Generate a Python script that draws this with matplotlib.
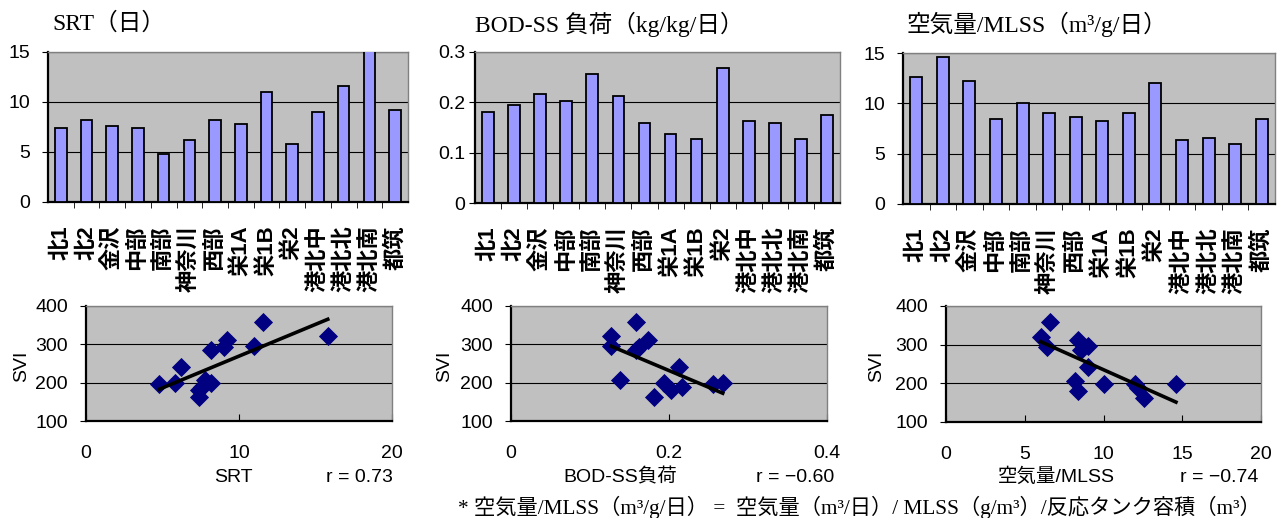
#!/usr/bin/env python3

import numpy as np
import matplotlib
matplotlib.use('Agg')
import matplotlib.pyplot as plt
from matplotlib.ticker import FixedLocator
plt.rcParams['font.family'] = ['Liberation Sans', 'Noto Sans CJK JP']
plt.rcParams['font.size'] = 14

W, H = 1281, 518

plants = ['北1', '北2', '金沢', '中部', '南部', '神奈川', '西部',
          '栄1A', '栄1B', '栄2', '港北中', '港北北', '港北南', '都筑']
srt = [7.4, 8.2, 7.6, 7.4, 4.8, 6.2, 8.2, 7.8, 11.0, 5.8, 9.0, 11.6, 15.8, 9.2]
bod_ss = [0.181, 0.194, 0.217, 0.202, 0.256, 0.213, 0.158,
          0.138, 0.127, 0.268, 0.162, 0.158, 0.127, 0.174]
air_mlss = [12.6, 14.6, 12.2, 8.4, 10.0, 9.0, 8.6, 8.2, 9.0, 12.0, 6.4, 6.6, 6.0, 8.4]
svi = [162, 198, 188, 181, 197, 241, 285, 206, 296, 199, 294, 358, 321, 312]

titles = ['SRT（日）', 'BOD-SS 負荷（kg/kg/日）', '空気量/MLSS（m³/g/日）']
xlabels = ['SRT', 'BOD-SS負荷', '空気量/MLSS']
r_texts = ['r = 0.73', 'r = −0.60', 'r = −0.74']
footnote = '* 空気量/MLSS（m³/g/日） =  空気量（m³/日）/ MLSS（g/m³）/反応タンク容積（m³）'

SERIF = ['Liberation Serif', 'Noto Sans CJK JP']


def rect(l, t, r, b):
    return [l / W, 1 - b / H, (r - l) / W, (b - t) / H]


def style_frame(ax):
    ax.set_facecolor('#C0C0C0')
    for side in ['left', 'bottom']:
        ax.spines[side].set_color('black')
        ax.spines[side].set_linewidth(1.6)
    for side in ['top', 'right']:
        ax.spines[side].set_color('#808080')
        ax.spines[side].set_linewidth(1.0)
    ax.set_axisbelow(True)


def plotBars(ax, values, yticks, ylim, fmt, ypad):
    style_frame(ax)
    x = np.arange(len(plants))
    ax.bar(x, values, width=0.45, color='#9999FF', edgecolor='black', linewidth=1.3, zorder=3)
    ax.set_xlim(-0.5, len(plants) - 0.5)
    ax.set_ylim(*ylim)
    ax.set_yticks(yticks)
    ax.set_yticklabels([fmt(v) for v in yticks])
    ax.yaxis.grid(True, color='black', linewidth=0.8)
    ax.set_xticks(x)
    ax.set_xticklabels(plants, rotation=90, fontsize=16, fontweight='bold')
    ax.xaxis.set_minor_locator(FixedLocator(np.arange(0.5, len(plants) - 0.5, 1.0)))
    ax.tick_params(axis='x', which='major', length=0, pad=17)
    ax.tick_params(axis='x', which='minor', length=4, direction='out')
    ax.tick_params(axis='y', length=4, direction='out', pad=ypad, labelsize=14)


def plotScatter(ax, xs, xlim, xticks, fmt):
    style_frame(ax)
    ax.scatter(xs, svi, marker='D', s=95, color='#000080', zorder=3, linewidths=0)
    slope, icpt = np.polyfit(xs, svi, 1)
    xx = np.array([min(xs), max(xs)])
    ax.plot(xx, slope * xx + icpt, color='black', linewidth=2.6, zorder=4)
    ax.set_xlim(*xlim)
    ax.set_ylim(100, 400)
    ax.set_yticks([100, 200, 300, 400])
    ax.yaxis.grid(True, color='black', linewidth=0.8)
    ax.set_xticks(xticks)
    ax.set_xticklabels([fmt(v) for v in xticks])
    ax.tick_params(axis='x', length=5, direction='in', pad=17, labelsize=14)
    ax.tick_params(axis='y', length=4, direction='out', pad=9, labelsize=14)


def main():
    fig = plt.figure(figsize=(W / 100, H / 100), dpi=100)

    bar_rects = [rect(48, 52, 408, 202), rect(475, 52, 840, 203), rect(903, 53, 1275, 204)]
    sc_rects = [rect(86, 306, 392, 421), rect(511, 306, 827, 421), rect(946, 306, 1261, 422)]
    title_x = [52, 475, 907]
    svi_x = [22, 445, 877]
    xlabel_x = [233, 620, 1056]
    r_x = [359, 795, 1219]
    ypads = [9, 3, 9]

    int_fmt = lambda v: f'{v:g}'
    bar_data = [
        (srt, [0, 5, 10, 15], (0, 15), int_fmt),
        (bod_ss, [0, 0.1, 0.2, 0.3], (0, 0.3), int_fmt),
        (air_mlss, [0, 5, 10, 15], (0, 15), int_fmt),
    ]
    sc_data = [
        (srt, (0, 20), [0, 10, 20]),
        (bod_ss, (0, 0.4), [0, 0.2, 0.4]),
        (air_mlss, (0, 20), [0, 5, 10, 15, 20]),
    ]

    for i in range(3):
        ax = fig.add_axes(bar_rects[i])
        values, yticks, ylim, fmt = bar_data[i]
        plotBars(ax, values, yticks, ylim, fmt, ypads[i])
        fig.text(title_x[i] / W, 1 - 24 / H, titles[i], fontsize=17,
                 family=SERIF, va='center', ha='left')

        sx = fig.add_axes(sc_rects[i])
        xs, xlim, xticks = sc_data[i]
        plotScatter(sx, xs, xlim, xticks, int_fmt)
        fig.text(svi_x[i] / W, 1 - 366 / H, 'SVI', rotation=90, fontsize=14, va='center', ha='center')
        fig.text(xlabel_x[i] / W, 1 - 477 / H, xlabels[i], fontsize=14, va='center', ha='center')
        fig.text(r_x[i] / W, 1 - 477 / H, r_texts[i], fontsize=14, va='center', ha='center')

    fig.text(458 / W, 1 - 507 / H, footnote, fontsize=15.3,
             family=SERIF, va='center', ha='left')

    fig.savefig('out.png', dpi=100)


if __name__ == '__main__':
    main()
